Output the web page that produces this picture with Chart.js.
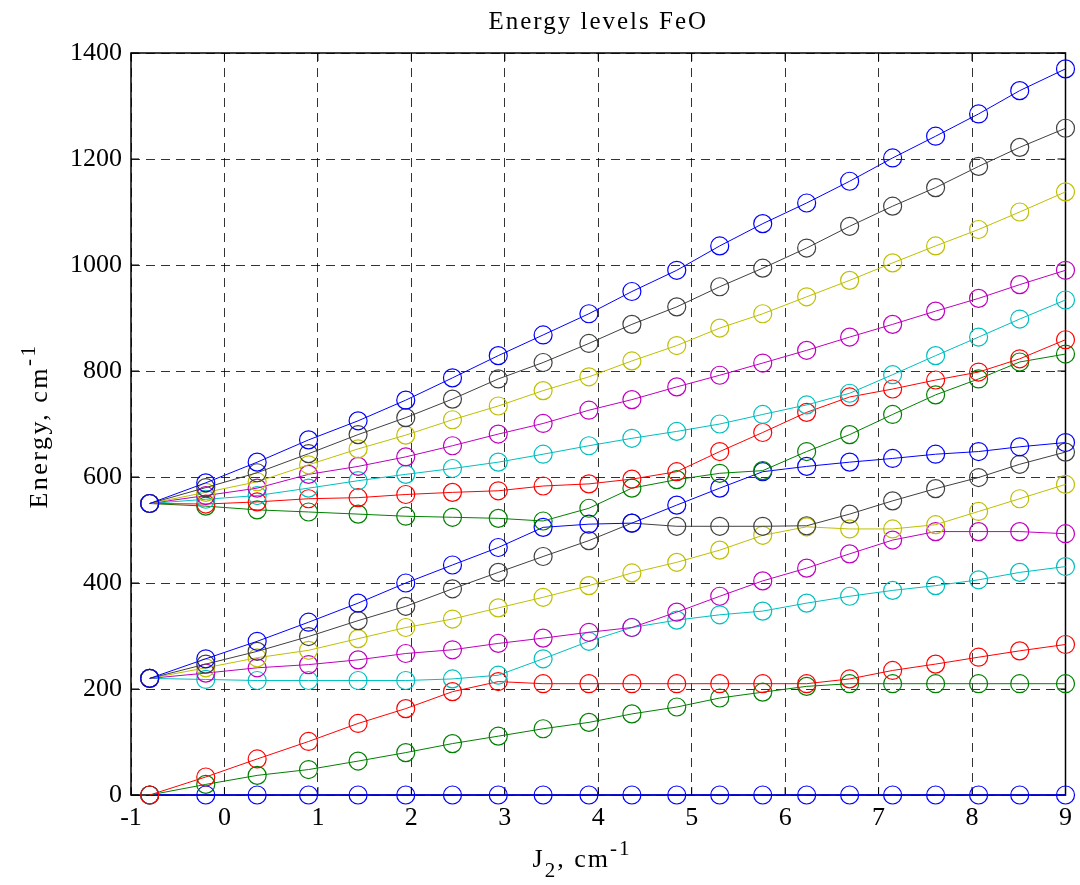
<!DOCTYPE html>
<html>
<head>
<meta charset="utf-8">
<title>Energy levels FeO</title>
<script src="https://cdn.jsdelivr.net/npm/chart.js@4/dist/chart.umd.min.js"></script>
<style>
  html, body { margin: 0; padding: 0; background: #fff; }
  #wrap { width: 1080px; height: 885px; }
</style>
</head>
<body>
<div id="wrap"><canvas id="levels" width="1080" height="885"></canvas></div>
<script>
// J2 values, cm-1
var xVals = [-0.8, -0.2, 0.35, 0.9, 1.43, 1.94, 2.44, 2.93, 3.41, 3.9, 4.36,
             4.84, 5.3, 5.76, 6.23, 6.69, 7.15, 7.61, 8.07, 8.51, 9.0];

// energy levels, sorted from lowest to highest
var lev1  = [0, 0, 0, 0, 0, 0, 0, 0, 0, 0, 0, 0, 0, 0, 0, 0, 0, 0, 0, 0, 0];
var lev2  = [0, 20, 37, 48, 64, 80, 97, 111, 125, 137, 153, 166, 183, 194, 205, 210, 210, 210, 210, 210, 210];
var lev3  = [0, 34, 68, 101, 135, 163, 195, 214, 210, 210, 210, 210, 210, 210, 210, 219, 235, 247, 260, 272, 284];
var lev4  = [220, 218, 216, 216, 216, 216, 219, 226, 257, 290, 316, 330, 340, 347, 362, 375, 386, 395, 406, 420, 431];
var lev5  = [220, 230, 240, 246, 255, 267, 274, 286, 296, 307, 316, 345, 375, 404, 428, 455, 481, 497, 497, 497, 493];
var lev6  = [220, 240, 259, 273, 295, 316, 332, 353, 373, 395, 419, 439, 462, 490, 506, 502, 502, 510, 535, 559, 586];
var lev7  = [220, 247, 271, 299, 329, 356, 389, 420, 450, 480, 513, 507, 507, 507, 508, 530, 555, 578, 599, 624, 647];
var lev8  = [220, 257, 290, 326, 362, 400, 434, 467, 505, 511, 513, 547, 579, 610, 620, 628, 635, 643, 648, 657, 665];
var lev9  = [550, 545, 538, 534, 530, 526, 524, 522, 517, 541, 579, 595, 607, 612, 648, 680, 718, 755, 785, 817, 832];
var lev10 = [550, 549, 553, 559, 561, 567, 571, 574, 583, 587, 596, 610, 648, 684, 722, 751, 766, 783, 798, 823, 859];
var lev11 = [550, 558, 565, 579, 593, 605, 616, 628, 643, 659, 673, 686, 700, 718, 736, 758, 793, 829, 864, 898, 934];
var lev12 = [550, 565, 579, 605, 620, 638, 659, 681, 701, 726, 746, 770, 792, 815, 839, 864, 888, 913, 937, 963, 990];
var lev13 = [550, 571, 591, 623, 653, 679, 708, 734, 763, 789, 819, 848, 881, 908, 940, 971, 1004, 1036, 1067, 1100, 1138];
var lev14 = [550, 580, 608, 644, 680, 712, 747, 785, 816, 852, 888, 921, 959, 994, 1032, 1073, 1111, 1146, 1186, 1222, 1258];
var lev15 = [550, 589, 628, 670, 706, 745, 787, 829, 868, 908, 950, 990, 1036, 1078, 1117, 1158, 1202, 1243, 1285, 1329, 1370];

var levels = [lev1, lev2, lev3, lev4, lev5, lev6, lev7, lev8,
              lev9, lev10, lev11, lev12, lev13, lev14, lev15];

// b g r c m y k line colour cycle
var colorOrder = ['#0000ff', '#008000', '#ff0000', '#00bfbf', '#bf00bf', '#bfbf00', '#404040'];

var SERIF = '"Liberation Serif", "Times New Roman", serif';

var datasets = levels.map(function (vals, i) {
  return {
    label: 'E' + (i + 1),
    data: vals.map(function (y, k) { return { x: xVals[k], y: y }; }),
    borderColor: colorOrder[i % colorOrder.length],
    pointBorderColor: colorOrder[i % colorOrder.length],
    backgroundColor: 'transparent',
    pointBackgroundColor: 'rgba(0,0,0,0)',
    borderWidth: i === 0 ? 1.5 : 1,
    pointRadius: 9,
    pointBorderWidth: 1.2,
    pointStyle: 'circle',
    showLine: true,
    fill: false,
    tension: 0,
    clip: false,
    order: levels.length - i
  };
});

// draws text runs with sub/superscript offsets, starting at x
function drawRuns(ctx, runs, x, y) {
  runs.forEach(function (r) {
    ctx.font = r.size + 'px ' + SERIF;
    ctx.fillText(r.t, x, y + (r.dy || 0));
    x += ctx.measureText(r.t).width;
  });
}
function runsWidth(ctx, runs) {
  var w = 0;
  runs.forEach(function (r) {
    ctx.font = r.size + 'px ' + SERIF;
    w += ctx.measureText(r.t).width;
  });
  return w;
}

var framePlugin = {
  id: 'frame',
  // box and inward ticks go under the curves
  beforeDatasetsDraw: function (chart) {
    var ctx = chart.ctx;
    var a = chart.chartArea;
    var xs = chart.scales.x, ys = chart.scales.y;
    ctx.save();
    ctx.strokeStyle = '#000';
    ctx.lineWidth = 1.5;
    ctx.strokeRect(a.left, a.top, a.right - a.left, a.bottom - a.top);

    ctx.lineWidth = 1;
    ctx.beginPath();
    xs.ticks.forEach(function (t) {
      var px = xs.getPixelForValue(t.value);
      ctx.moveTo(px, a.bottom); ctx.lineTo(px, a.bottom - 8);
      ctx.moveTo(px, a.top); ctx.lineTo(px, a.top + 8);
    });
    ys.ticks.forEach(function (t) {
      var py = ys.getPixelForValue(t.value);
      ctx.moveTo(a.left, py); ctx.lineTo(a.left + 8, py);
      ctx.moveTo(a.right, py); ctx.lineTo(a.right - 8, py);
    });
    ctx.stroke();
    ctx.restore();
  },
  afterDraw: function (chart) {
    var ctx = chart.ctx;
    var a = chart.chartArea;
    ctx.save();
    ctx.fillStyle = '#000';
    ctx.textBaseline = 'alphabetic';

    // title
    var cx = (a.left + a.right) / 2;
    ctx.letterSpacing = '2px';
    var title = [{ t: 'Energy levels FeO', size: 25 }];
    drawRuns(ctx, title, cx - runsWidth(ctx, title) / 2, 29);

    // x axis label
    ctx.letterSpacing = '2px';
    var xl = [
      { t: 'J', size: 26 },
      { t: '2', size: 21, dy: 10 },
      { t: ', cm', size: 26 },
      { t: '-1', size: 21, dy: -12 }
    ];
    drawRuns(ctx, xl, 582 - runsWidth(ctx, xl) / 2, 867);

    // y axis label, rotated
    ctx.letterSpacing = '2.5px';
    var yl = [
      { t: 'Energy, cm', size: 26 },
      { t: '-1', size: 21, dy: -12 }
    ];
    ctx.translate(47, 426);
    ctx.rotate(-Math.PI / 2);
    drawRuns(ctx, yl, -runsWidth(ctx, yl) / 2, 0);
    ctx.restore();
  }
};

function plain(v) { return String(v); }

new Chart(document.getElementById('levels'), {
  type: 'line',
  data: { datasets: datasets },
  plugins: [framePlugin],
  options: {
    responsive: false,
    animation: false,
    layout: { padding: { top: 53, right: 8, left: 0, bottom: 0 } },
    plugins: {
      legend: { display: false },
      tooltip: { enabled: false },
      title: { display: false }
    },
    scales: {
      x: {
        type: 'linear',
        min: -1,
        max: 9,
        afterFit: function (s) { s.height = 90; },
        ticks: {
          stepSize: 1,
          padding: 8,
          color: '#000',
          callback: plain,
          font: { family: SERIF, size: 26 }
        },
        grid: {
          color: 'rgba(0,0,0,0.8)',
          lineWidth: 1,
          drawTicks: false
        },
        border: { display: false, dash: [9, 6] }
      },
      y: {
        min: 0,
        max: 1400,
        afterFit: function (s) { s.width = 131; },
        ticks: {
          stepSize: 200,
          padding: 9,
          color: '#000',
          callback: plain,
          font: { family: SERIF, size: 26 }
        },
        grid: {
          color: 'rgba(0,0,0,0.8)',
          lineWidth: 1,
          drawTicks: false
        },
        border: { display: false, dash: [9, 6] }
      }
    }
  }
});
</script>
</body>
</html>
